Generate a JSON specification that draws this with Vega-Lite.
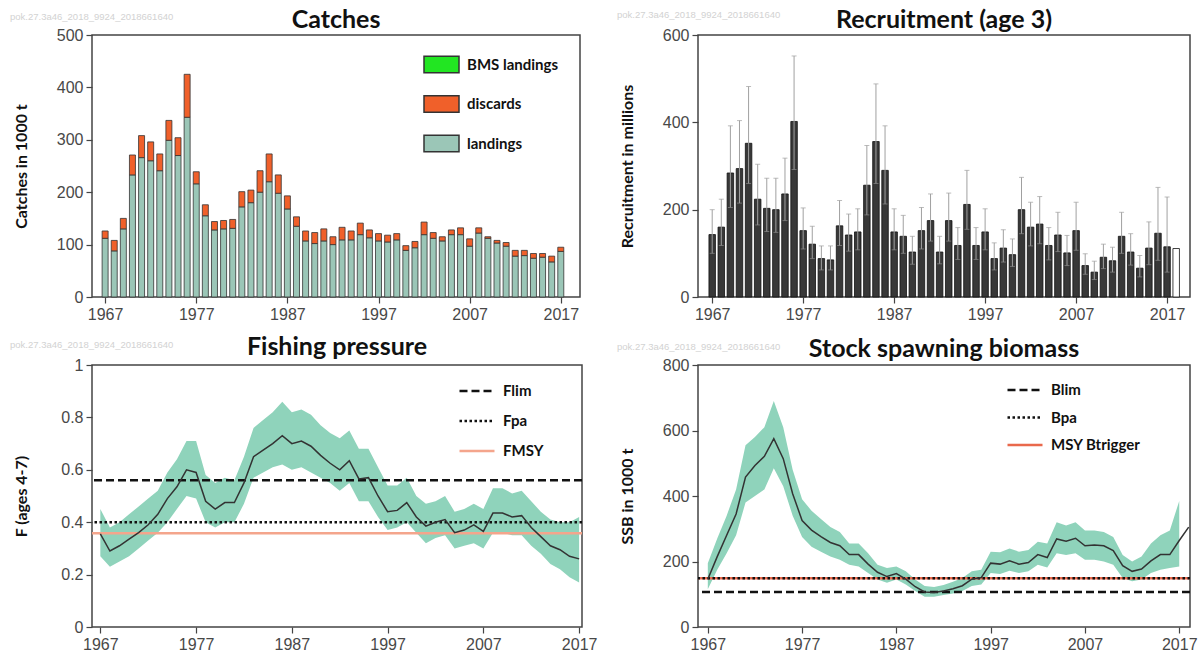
{
  "$schema": "https://vega.github.io/schema/vega-lite/v6.json",
  "autosize": {"type": "none"},
  "padding": {"left": 92, "top": 35, "right": 1111, "bottom": 622},
  "background": "white",
  "config": {
    "view": {"stroke": "#444", "strokeWidth": 1.5},
    "axis": {"domain": false, "grid": false, "labelFont": "Liberation Sans", "labelFontSize": 16, "labelColor": "#484848", "tickColor": "#444", "tickSize": 6, "tickWidth": 1.2, "titleFont": "Lato", "titleFontSize": 16, "titleFontWeight": "bold", "titleColor": "#111"},
    "axisY": {"titleX": -71, "titleY": 131, "titleBaseline": "middle", "titleAlign": "center", "titleAngle": -90, "labelPadding": 3},
    "axisX": {"labelPadding": 3},
    "title": {"font": "Lato", "fontSize": 25, "fontWeight": "bold", "color": "#111", "anchor": "middle", "baseline": "alphabetic"}
  },
  "datasets": {
    "catches": [
      {"year":1967,"landings":112,"discards":14},{"year":1968,"landings":88,"discards":20},{"year":1969,"landings":130,"discards":20},
      {"year":1970,"landings":233,"discards":38},{"year":1971,"landings":266,"discards":42},{"year":1972,"landings":260,"discards":36},
      {"year":1973,"landings":241,"discards":32},{"year":1974,"landings":299,"discards":38},{"year":1975,"landings":270,"discards":34},
      {"year":1976,"landings":343,"discards":82},{"year":1977,"landings":216,"discards":23},{"year":1978,"landings":155,"discards":21},
      {"year":1979,"landings":128,"discards":16},{"year":1980,"landings":130,"discards":16},{"year":1981,"landings":131,"discards":17},
      {"year":1982,"landings":172,"discards":29},{"year":1983,"landings":180,"discards":24},{"year":1984,"landings":200,"discards":41},
      {"year":1985,"landings":220,"discards":53},{"year":1986,"landings":198,"discards":35},{"year":1987,"landings":168,"discards":25},
      {"year":1988,"landings":135,"discards":18},{"year":1989,"landings":107,"discards":19},{"year":1990,"landings":102,"discards":21},
      {"year":1991,"landings":107,"discards":23},{"year":1992,"landings":100,"discards":15},{"year":1993,"landings":109,"discards":24},
      {"year":1994,"landings":109,"discards":17},{"year":1995,"landings":119,"discards":22},{"year":1996,"landings":113,"discards":15},
      {"year":1997,"landings":107,"discards":14},{"year":1998,"landings":105,"discards":13},{"year":1999,"landings":109,"discards":12},
      {"year":2000,"landings":89,"discards":9},{"year":2001,"landings":94,"discards":12},{"year":2002,"landings":119,"discards":24},
      {"year":2003,"landings":112,"discards":11},{"year":2004,"landings":107,"discards":8},{"year":2005,"landings":119,"discards":9},
      {"year":2006,"landings":119,"discards":13},{"year":2007,"landings":97,"discards":14},{"year":2008,"landings":122,"discards":10},
      {"year":2009,"landings":112,"discards":3},{"year":2010,"landings":103,"discards":5},{"year":2011,"landings":97,"discards":7},
      {"year":2012,"landings":78,"discards":11},{"year":2013,"landings":79,"discards":10},{"year":2014,"landings":74,"discards":9},
      {"year":2015,"landings":76,"discards":7},{"year":2016,"landings":67,"discards":11},{"year":2017,"landings":87,"discards":8}
    ],
    "recruitment": [
      {"year":1967,"rec":143,"lo":100,"hi":200,"kind":"est"},{"year":1968,"rec":160,"lo":118,"hi":224,"kind":"est"},
      {"year":1969,"rec":284,"lo":205,"hi":392,"kind":"est"},{"year":1970,"rec":294,"lo":215,"hi":404,"kind":"est"},
      {"year":1971,"rec":352,"lo":260,"hi":482,"kind":"est"},{"year":1972,"rec":224,"lo":165,"hi":304,"kind":"est"},
      {"year":1973,"rec":203,"lo":150,"hi":272,"kind":"est"},{"year":1974,"rec":200,"lo":148,"hi":272,"kind":"est"},
      {"year":1975,"rec":236,"lo":175,"hi":318,"kind":"est"},{"year":1976,"rec":402,"lo":292,"hi":552,"kind":"est"},
      {"year":1977,"rec":152,"lo":110,"hi":204,"kind":"est"},{"year":1978,"rec":121,"lo":88,"hi":162,"kind":"est"},
      {"year":1979,"rec":88,"lo":62,"hi":117,"kind":"est"},{"year":1980,"rec":85,"lo":62,"hi":117,"kind":"est"},
      {"year":1981,"rec":163,"lo":118,"hi":221,"kind":"est"},{"year":1982,"rec":142,"lo":105,"hi":190,"kind":"est"},
      {"year":1983,"rec":149,"lo":108,"hi":202,"kind":"est"},{"year":1984,"rec":256,"lo":188,"hi":347,"kind":"est"},
      {"year":1985,"rec":356,"lo":260,"hi":488,"kind":"est"},{"year":1986,"rec":290,"lo":213,"hi":392,"kind":"est"},
      {"year":1987,"rec":149,"lo":108,"hi":202,"kind":"est"},{"year":1988,"rec":139,"lo":100,"hi":187,"kind":"est"},
      {"year":1989,"rec":103,"lo":75,"hi":139,"kind":"est"},{"year":1990,"rec":152,"lo":110,"hi":205,"kind":"est"},
      {"year":1991,"rec":175,"lo":128,"hi":236,"kind":"est"},{"year":1992,"rec":103,"lo":76,"hi":139,"kind":"est"},
      {"year":1993,"rec":175,"lo":128,"hi":238,"kind":"est"},{"year":1994,"rec":118,"lo":86,"hi":159,"kind":"est"},
      {"year":1995,"rec":212,"lo":155,"hi":290,"kind":"est"},{"year":1996,"rec":118,"lo":86,"hi":159,"kind":"est"},
      {"year":1997,"rec":149,"lo":108,"hi":202,"kind":"est"},{"year":1998,"rec":88,"lo":62,"hi":124,"kind":"est"},
      {"year":1999,"rec":112,"lo":80,"hi":154,"kind":"est"},{"year":2000,"rec":97,"lo":70,"hi":133,"kind":"est"},
      {"year":2001,"rec":200,"lo":145,"hi":274,"kind":"est"},{"year":2002,"rec":160,"lo":117,"hi":217,"kind":"est"},
      {"year":2003,"rec":167,"lo":122,"hi":230,"kind":"est"},{"year":2004,"rec":118,"lo":85,"hi":159,"kind":"est"},
      {"year":2005,"rec":142,"lo":104,"hi":194,"kind":"est"},{"year":2006,"rec":101,"lo":72,"hi":141,"kind":"est"},
      {"year":2007,"rec":152,"lo":107,"hi":217,"kind":"est"},{"year":2008,"rec":72,"lo":52,"hi":99,"kind":"est"},
      {"year":2009,"rec":57,"lo":40,"hi":82,"kind":"est"},{"year":2010,"rec":91,"lo":65,"hi":121,"kind":"est"},
      {"year":2011,"rec":83,"lo":57,"hi":114,"kind":"est"},{"year":2012,"rec":139,"lo":100,"hi":194,"kind":"est"},
      {"year":2013,"rec":103,"lo":73,"hi":145,"kind":"est"},{"year":2014,"rec":66,"lo":46,"hi":95,"kind":"est"},
      {"year":2015,"rec":112,"lo":74,"hi":172,"kind":"est"},{"year":2016,"rec":146,"lo":84,"hi":251,"kind":"est"},
      {"year":2017,"rec":115,"lo":57,"hi":229,"kind":"est"},{"year":2018,"rec":111,"lo":null,"hi":null,"kind":"pred"}
    ],
    "fishing": [
      {"year":1967,"f":0.355,"lo":0.27,"hi":0.45},{"year":1968,"f":0.29,"lo":0.23,"hi":0.38},{"year":1969,"f":0.31,"lo":0.25,"hi":0.40},
      {"year":1970,"f":0.335,"lo":0.27,"hi":0.43},{"year":1971,"f":0.36,"lo":0.30,"hi":0.46},{"year":1972,"f":0.39,"lo":0.33,"hi":0.49},
      {"year":1973,"f":0.43,"lo":0.36,"hi":0.52},{"year":1974,"f":0.49,"lo":0.40,"hi":0.59},{"year":1975,"f":0.535,"lo":0.45,"hi":0.64},
      {"year":1976,"f":0.60,"lo":0.50,"hi":0.71},{"year":1977,"f":0.59,"lo":0.49,"hi":0.71},{"year":1978,"f":0.48,"lo":0.40,"hi":0.58},
      {"year":1979,"f":0.45,"lo":0.38,"hi":0.55},{"year":1980,"f":0.475,"lo":0.40,"hi":0.57},{"year":1981,"f":0.475,"lo":0.40,"hi":0.56},
      {"year":1982,"f":0.55,"lo":0.47,"hi":0.65},{"year":1983,"f":0.65,"lo":0.57,"hi":0.76},{"year":1984,"f":0.675,"lo":0.59,"hi":0.79},
      {"year":1985,"f":0.70,"lo":0.61,"hi":0.82},{"year":1986,"f":0.73,"lo":0.62,"hi":0.86},{"year":1987,"f":0.70,"lo":0.60,"hi":0.82},
      {"year":1988,"f":0.71,"lo":0.61,"hi":0.83},{"year":1989,"f":0.69,"lo":0.59,"hi":0.81},{"year":1990,"f":0.655,"lo":0.57,"hi":0.77},
      {"year":1991,"f":0.625,"lo":0.55,"hi":0.74},{"year":1992,"f":0.60,"lo":0.52,"hi":0.72},{"year":1993,"f":0.635,"lo":0.55,"hi":0.75},
      {"year":1994,"f":0.565,"lo":0.48,"hi":0.68},{"year":1995,"f":0.57,"lo":0.48,"hi":0.68},{"year":1996,"f":0.50,"lo":0.42,"hi":0.61},
      {"year":1997,"f":0.44,"lo":0.37,"hi":0.54},{"year":1998,"f":0.445,"lo":0.38,"hi":0.54},{"year":1999,"f":0.475,"lo":0.40,"hi":0.57},
      {"year":2000,"f":0.42,"lo":0.36,"hi":0.50},{"year":2001,"f":0.385,"lo":0.32,"hi":0.47},{"year":2002,"f":0.40,"lo":0.34,"hi":0.48},
      {"year":2003,"f":0.41,"lo":0.35,"hi":0.50},{"year":2004,"f":0.36,"lo":0.30,"hi":0.44},{"year":2005,"f":0.37,"lo":0.31,"hi":0.45},
      {"year":2006,"f":0.39,"lo":0.32,"hi":0.47},{"year":2007,"f":0.365,"lo":0.30,"hi":0.45},{"year":2008,"f":0.435,"lo":0.36,"hi":0.53},
      {"year":2009,"f":0.435,"lo":0.36,"hi":0.53},{"year":2010,"f":0.42,"lo":0.35,"hi":0.51},{"year":2011,"f":0.425,"lo":0.35,"hi":0.52},
      {"year":2012,"f":0.38,"lo":0.31,"hi":0.48},{"year":2013,"f":0.345,"lo":0.28,"hi":0.44},{"year":2014,"f":0.31,"lo":0.24,"hi":0.41},
      {"year":2015,"f":0.295,"lo":0.22,"hi":0.40},{"year":2016,"f":0.27,"lo":0.19,"hi":0.40},{"year":2017,"f":0.26,"lo":0.17,"hi":0.42}
    ],
    "ssb": [
      {"year":1967,"ssb":146,"lo":115,"hi":195},{"year":1968,"ssb":215,"lo":175,"hi":270},{"year":1969,"ssb":280,"lo":225,"hi":340},
      {"year":1970,"ssb":345,"lo":280,"hi":420},{"year":1971,"ssb":458,"lo":380,"hi":555},{"year":1972,"ssb":493,"lo":400,"hi":580},
      {"year":1973,"ssb":521,"lo":420,"hi":610},{"year":1974,"ssb":575,"lo":485,"hi":690},{"year":1975,"ssb":514,"lo":430,"hi":610},
      {"year":1976,"ssb":407,"lo":340,"hi":480},{"year":1977,"ssb":325,"lo":275,"hi":390},{"year":1978,"ssb":296,"lo":245,"hi":355},
      {"year":1979,"ssb":276,"lo":230,"hi":330},{"year":1980,"ssb":258,"lo":215,"hi":305},{"year":1981,"ssb":248,"lo":205,"hi":290},
      {"year":1982,"ssb":221,"lo":190,"hi":255},{"year":1983,"ssb":221,"lo":185,"hi":255},{"year":1984,"ssb":192,"lo":165,"hi":225},
      {"year":1985,"ssb":167,"lo":145,"hi":190},{"year":1986,"ssb":154,"lo":135,"hi":180},{"year":1987,"ssb":163,"lo":145,"hi":185},
      {"year":1988,"ssb":146,"lo":130,"hi":170},{"year":1989,"ssb":123,"lo":110,"hi":145},{"year":1990,"ssb":107,"lo":92,"hi":125},
      {"year":1991,"ssb":105,"lo":92,"hi":122},{"year":1992,"ssb":110,"lo":98,"hi":128},{"year":1993,"ssb":117,"lo":102,"hi":138},
      {"year":1994,"ssb":126,"lo":110,"hi":150},{"year":1995,"ssb":146,"lo":125,"hi":170},{"year":1996,"ssb":151,"lo":130,"hi":175},
      {"year":1997,"ssb":195,"lo":165,"hi":230},{"year":1998,"ssb":192,"lo":162,"hi":228},{"year":1999,"ssb":202,"lo":172,"hi":240},
      {"year":2000,"ssb":192,"lo":165,"hi":230},{"year":2001,"ssb":197,"lo":170,"hi":235},{"year":2002,"ssb":221,"lo":190,"hi":260},
      {"year":2003,"ssb":212,"lo":182,"hi":255},{"year":2004,"ssb":269,"lo":225,"hi":320},{"year":2005,"ssb":262,"lo":220,"hi":310},
      {"year":2006,"ssb":271,"lo":225,"hi":320},{"year":2007,"ssb":248,"lo":205,"hi":295},{"year":2008,"ssb":250,"lo":205,"hi":295},
      {"year":2009,"ssb":248,"lo":200,"hi":290},{"year":2010,"ssb":233,"lo":190,"hi":275},{"year":2011,"ssb":187,"lo":150,"hi":220},
      {"year":2012,"ssb":170,"lo":140,"hi":200},{"year":2013,"ssb":177,"lo":145,"hi":215},{"year":2014,"ssb":202,"lo":165,"hi":255},
      {"year":2015,"ssb":221,"lo":175,"hi":280},{"year":2016,"ssb":221,"lo":180,"hi":295},{"year":2017,"ssb":264,"lo":185,"hi":385},
      {"year":2018,"ssb":305,"lo":null,"hi":null}
    ],
    "fref": [{"ref":"FMSY","v":0.358},{"ref":"Flim","v":0.56},{"ref":"Fpa","v":0.40}],
    "bref": [{"ref":"MSY Btrigger","v":149},{"ref":"Blim","v":107},{"ref":"Bpa","v":149}],
    "wm": [{"t":"pok.27.3a46_2018_9924_2018661640"}]
  },
  "columns": 2,
  "spacing": {"row": 68, "column": 116},
  "bounds": "flush",
  "resolve": {"scale": {"x": "independent", "y": "independent", "color": "independent", "fill": "independent", "strokeDash": "independent"}},
  "concat": [
    {
      "width": 488, "height": 262,
      "title": {"text": "Catches", "offset": -20.75},
      "layer": [
        {
          "data": {"name": "wm"},
          "mark": {"type": "text", "align": "left", "baseline": "middle", "fontSize": 9.5, "color": "#d2d2d2", "font": "Liberation Sans"},
          "encoding": {"text": {"field": "t"}, "x": {"value": -82}, "y": {"value": -18}}
        },
        {
          "data": {"name": "catches"},
          "transform": [{"fold": ["landings", "discards"], "as": ["category", "value"]}],
          "mark": {"type": "bar", "size": 6, "stroke": "#333", "strokeWidth": 0.8},
          "encoding": {
            "x": {"field": "year", "type": "quantitative", "scale": {"domain": [1966.11, 2018.56], "nice": false, "zero": false}, "axis": {"values": [1967, 1977, 1987, 1997, 2007, 2017], "format": "d", "title": null}},
            "y": {"field": "value", "type": "quantitative", "stack": "zero", "scale": {"domain": [0, 500], "nice": false}, "axis": {"values": [0, 100, 200, 300, 400, 500], "title": "Catches in 1000 t"}},
            "color": {"field": "category", "type": "nominal", "scale": {"domain": ["BMS landings", "discards", "landings"], "range": ["#22e622", "#f0602a", "#9bc6b7"]},
              "legend": {"orient": "none", "legendX": 331, "legendY": 11, "title": null, "symbolType": "M-1,-0.476H1V0.476H-1Z", "symbolSize": 1225, "symbolStrokeColor": "#333", "symbolStrokeWidth": 1.5, "symbolOpacity": 1, "labelFont": "Lato", "labelFontSize": 15, "labelFontWeight": "bold", "labelColor": "#111", "labelOffset": 7, "rowPadding": 9.5, "padding": 0}},
            "order": {"field": "category", "sort": "descending"}
          }
        }
      ]
    },
    {
      "width": 492, "height": 262,
      "title": {"text": "Recruitment (age 3)", "offset": -22.75},
      "layer": [
        {
          "data": {"name": "wm"},
          "mark": {"type": "text", "align": "left", "baseline": "middle", "fontSize": 9.5, "color": "#d2d2d2", "font": "Liberation Sans"},
          "encoding": {"text": {"field": "t"}, "x": {"value": -81}, "y": {"value": -20}}
        },
        {
          "data": {"name": "recruitment"},
          "mark": {"type": "bar", "size": 6.5, "stroke": "#111", "strokeWidth": 0.8},
          "encoding": {
            "x": {"field": "year", "type": "quantitative", "scale": {"domain": [1965.99, 2018.97], "nice": false, "zero": false}, "axis": {"values": [1967, 1977, 1987, 1997, 2007, 2017], "format": "d", "title": null}},
            "y": {"field": "rec", "type": "quantitative", "scale": {"domain": [0, 600], "nice": false}, "axis": {"values": [0, 200, 400, 600], "title": "Recruitment in millions"}},
            "fill": {"field": "kind", "type": "nominal", "scale": {"domain": ["est", "pred"], "range": ["#383838", "#ffffff"]}, "legend": null}
          }
        },
        {
          "data": {"name": "recruitment"},
          "mark": {"type": "rule", "color": "#a0a0a0", "strokeWidth": 1},
          "encoding": {"x": {"field": "year", "type": "quantitative"}, "y": {"field": "lo", "type": "quantitative"}, "y2": {"field": "hi"}}
        },
        {
          "data": {"name": "recruitment"},
          "mark": {"type": "tick", "orient": "horizontal", "size": 5, "thickness": 1, "color": "#a0a0a0"},
          "encoding": {"x": {"field": "year", "type": "quantitative"}, "y": {"field": "hi", "type": "quantitative"}}
        },
        {
          "data": {"name": "recruitment"},
          "mark": {"type": "tick", "orient": "horizontal", "size": 5, "thickness": 1, "color": "#8a8a8a"},
          "encoding": {"x": {"field": "year", "type": "quantitative"}, "y": {"field": "lo", "type": "quantitative"}}
        }
      ]
    },
    {
      "width": 490, "height": 262,
      "title": {"text": "Fishing pressure", "offset": -19.75},
      "layer": [
        {
          "data": {"name": "wm"},
          "mark": {"type": "text", "align": "left", "baseline": "middle", "fontSize": 9.5, "color": "#d2d2d2", "font": "Liberation Sans"},
          "encoding": {"text": {"field": "t"}, "x": {"value": -82}, "y": {"value": -20}}
        },
        {
          "data": {"name": "fishing"},
          "mark": {"type": "area", "color": "#8fd3bb", "opacity": 1},
          "encoding": {
            "x": {"field": "year", "type": "quantitative", "scale": {"domain": [1966.13, 2017.3], "nice": false, "zero": false}, "axis": {"values": [1967, 1977, 1987, 1997, 2007, 2017], "format": "d", "title": null}},
            "y": {"field": "lo", "type": "quantitative", "scale": {"domain": [0, 1], "nice": false}, "axis": {"values": [0, 0.2, 0.4, 0.6, 0.8, 1], "format": "~g", "title": "F (ages 4-7)"}},
            "y2": {"field": "hi"}
          }
        },
        {
          "data": {"name": "fref"},
          "mark": {"type": "rule", "strokeWidth": 2.5},
          "encoding": {
            "y": {"field": "v", "type": "quantitative"},
            "color": {"field": "ref", "type": "nominal", "scale": {"domain": ["Flim", "Fpa", "FMSY"], "range": ["#111111", "#111111", "#f4a58c"]},
              "legend": {"orient": "none", "legendX": 366, "legendY": 7, "title": null, "symbolType": "stroke", "symbolSize": 1225, "symbolStrokeWidth": 2.5, "labelFont": "Lato", "labelFontSize": 15, "labelFontWeight": "bold", "labelColor": "#111", "labelOffset": 7, "rowPadding": 3, "padding": 0}},
            "strokeDash": {"field": "ref", "type": "nominal", "scale": {"domain": ["Flim", "Fpa", "FMSY"], "range": [[8, 4], [2.5, 2.5], [1, 0]]},
              "legend": {"orient": "none", "legendX": 366, "legendY": 7, "title": null, "symbolType": "stroke", "symbolSize": 1225, "symbolStrokeWidth": 2.5, "labelFont": "Lato", "labelFontSize": 15, "labelFontWeight": "bold", "labelColor": "#111", "labelOffset": 7, "rowPadding": 3, "padding": 0}}
          }
        },
        {
          "data": {"name": "fishing"},
          "mark": {"type": "line", "color": "#333", "strokeWidth": 1.5},
          "encoding": {"x": {"field": "year", "type": "quantitative"}, "y": {"field": "f", "type": "quantitative"}}
        }
      ]
    },
    {
      "width": 492, "height": 262,
      "title": {"text": "Stock spawning biomass", "offset": -19.75},
      "layer": [
        {
          "data": {"name": "wm"},
          "mark": {"type": "text", "align": "left", "baseline": "middle", "fontSize": 9.5, "color": "#d2d2d2", "font": "Liberation Sans"},
          "encoding": {"text": {"field": "t"}, "x": {"value": -81}, "y": {"value": -18}}
        },
        {
          "data": {"name": "ssb"},
          "mark": {"type": "area", "color": "#8fd3bb", "opacity": 1},
          "encoding": {
            "x": {"field": "year", "type": "quantitative", "scale": {"domain": [1965.96, 2018.14], "nice": false, "zero": false}, "axis": {"values": [1967, 1977, 1987, 1997, 2007, 2017], "format": "d", "title": null}},
            "y": {"field": "lo", "type": "quantitative", "scale": {"domain": [0, 800], "nice": false}, "axis": {"values": [0, 200, 400, 600, 800], "title": "SSB in 1000 t"}},
            "y2": {"field": "hi"}
          }
        },
        {
          "data": {"name": "bref"},
          "mark": {"type": "rule", "strokeWidth": 2.5},
          "encoding": {
            "y": {"field": "v", "type": "quantitative"},
            "color": {"field": "ref", "type": "nominal", "scale": {"domain": ["Blim", "Bpa", "MSY Btrigger"], "range": ["#111111", "#111111", "#e9694c"]},
              "legend": {"orient": "none", "legendX": 308, "legendY": 6, "title": null, "symbolType": "stroke", "symbolSize": 1225, "symbolStrokeWidth": 2.5, "labelFont": "Lato", "labelFontSize": 15, "labelFontWeight": "bold", "labelColor": "#111", "labelOffset": 7, "rowPadding": 0.5, "padding": 0}},
            "strokeDash": {"field": "ref", "type": "nominal", "scale": {"domain": ["Blim", "Bpa", "MSY Btrigger"], "range": [[8, 4], [2.5, 2.5], [1, 0]]},
              "legend": {"orient": "none", "legendX": 308, "legendY": 6, "title": null, "symbolType": "stroke", "symbolSize": 1225, "symbolStrokeWidth": 2.5, "labelFont": "Lato", "labelFontSize": 15, "labelFontWeight": "bold", "labelColor": "#111", "labelOffset": 7, "rowPadding": 0.5, "padding": 0}}
          }
        },
        {
          "data": {"name": "ssb"},
          "mark": {"type": "line", "color": "#333", "strokeWidth": 1.5},
          "encoding": {"x": {"field": "year", "type": "quantitative"}, "y": {"field": "ssb", "type": "quantitative"}}
        }
      ]
    }
  ]
}
